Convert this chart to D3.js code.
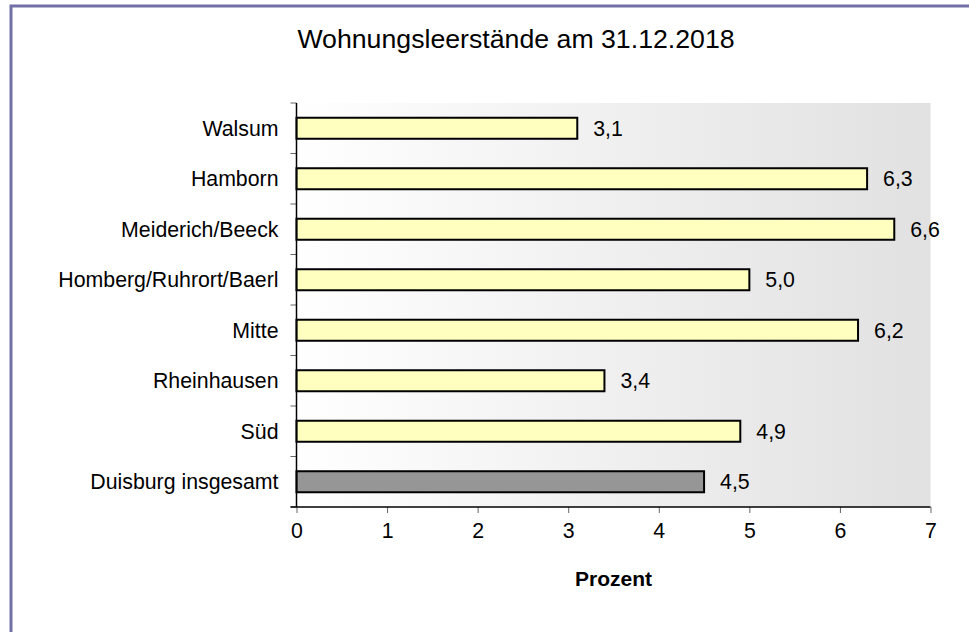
<!DOCTYPE html>
<html>
    <script src="https://d3js.org/d3.v7.min.js"></script>
    <head>
        <meta charset="utf-8">
        <style>
            body { margin: 0; background: #fff; }
            text { font-family: "Liberation Sans", Arial, sans-serif; fill: #000; }
        </style>
    </head>
    <body>
        <svg id="chart"></svg>

        <script>
            const districts = ["Walsum", "Hamborn", "Meiderich/Beeck", "Homberg/Ruhrort/Baerl", "Mitte", "Rheinhausen", "Süd", "Duisburg insgesamt"];
            const vacancy = [3.1, 6.3, 6.6, 5.0, 6.2, 3.4, 4.9, 4.5];
            const xTicks = [0, 1, 2, 3, 4, 5, 6, 7];
            const totalName = "Duisburg insgesamt";

            const width = 969, height = 632;
            const plot = { left: 296.5, right: 930.5, top: 103, bottom: 507 };

            const svg = d3.select("#chart")
                .attr("width", width)
                .attr("height", height)
                .attr("viewBox", [0, 0, width, height]);

            const data = districts.map((d, i) => ({ name: d, value: vacancy[i] }));

            const x = d3.scaleLinear().domain([0, 7]).range([plot.left, plot.right]);
            const y = d3.scaleBand().domain(districts).range([plot.top, plot.bottom])
                .paddingInner(0.584).paddingOuter(0.292);

            // frame (only top and left edges visible in the crop)
            svg.append("path")
                .attr("d", `M11,${height} L11,6 L${width},6`)
                .attr("fill", "none")
                .attr("stroke", "#7171a6")
                .attr("stroke-width", 3);

            // plot background gradient
            const grad = svg.append("defs").append("linearGradient")
                .attr("id", "bg").attr("x1", "0%").attr("x2", "100%");
            grad.append("stop").attr("offset", "0%").attr("stop-color", "#ffffff");
            grad.append("stop").attr("offset", "55%").attr("stop-color", "#eeeeee");
            grad.append("stop").attr("offset", "100%").attr("stop-color", "#e1e1e1");

            svg.append("rect")
                .attr("x", plot.left).attr("y", plot.top)
                .attr("width", plot.right - plot.left)
                .attr("height", plot.bottom - plot.top)
                .attr("fill", "url(#bg)");

            // title
            svg.append("text")
                .attr("x", 516).attr("y", 48)
                .attr("text-anchor", "middle")
                .attr("font-size", 26.7)
                .text("Wohnungsleerstände am 31.12.2018");

            // bars
            svg.selectAll("rect.bar")
                .data(data)
                .join("rect")
                .attr("class", "bar")
                .attr("x", x(0))
                .attr("y", d => y(d.name))
                .attr("width", d => x(d.value) - x(0))
                .attr("height", y.bandwidth())
                .attr("fill", d => d.name === totalName ? "#969696" : "#ffffc0")
                .attr("stroke", "#000")
                .attr("stroke-width", 2);

            // value labels
            svg.selectAll("text.val")
                .data(data)
                .join("text")
                .attr("class", "val")
                .attr("x", d => x(d.value) + 16)
                .attr("y", d => y(d.name) + y.bandwidth() / 2)
                .attr("dy", "0.36em")
                .attr("font-size", 21.3)
                .text(d => d.value.toFixed(1).replace(".", ","));

            // y axis: labels plus tick marks at band boundaries
            const yAxis = svg.append("g");
            const step = y.step();
            const bounds = districts.map(d => y(d) - step * y.paddingInner() / 2).concat([plot.bottom]);
            yAxis.selectAll("line.tick")
                .data(bounds)
                .join("line")
                .attr("class", "tick")
                .attr("x1", plot.left - 6).attr("x2", plot.left)
                .attr("y1", d => d).attr("y2", d => d)
                .attr("stroke", "#666").attr("stroke-width", 1);
            yAxis.selectAll("text")
                .data(districts)
                .join("text")
                .attr("x", plot.left - 18)
                .attr("y", d => y(d) + y.bandwidth() / 2)
                .attr("dy", "0.36em")
                .attr("text-anchor", "end")
                .attr("font-size", 21.3)
                .text(d => d);
            yAxis.append("line")
                .attr("x1", plot.left).attr("x2", plot.left)
                .attr("y1", plot.top).attr("y2", plot.bottom)
                .attr("stroke", "#000").attr("stroke-width", 1.5);

            // x axis
            const xAxis = svg.append("g")
                .attr("transform", `translate(0,${plot.bottom})`)
                .call(d3.axisBottom(x).tickValues(xTicks).tickSize(6).tickPadding(10).tickFormat(d3.format("d")));
            xAxis.select(".domain").remove();
            xAxis.selectAll(".tick line").attr("stroke", "#666");
            xAxis.selectAll(".tick text")
                .attr("font-size", 21.3)
                .attr("font-family", "Liberation Sans, Arial, sans-serif")
                .attr("fill", "#000");
            xAxis.append("line")
                .attr("x1", plot.left - 6).attr("x2", plot.right)
                .attr("stroke", "#000").attr("stroke-width", 1.5);

            svg.append("text")
                .attr("x", (plot.left + plot.right) / 2).attr("y", 586)
                .attr("text-anchor", "middle")
                .attr("font-size", 21)
                .attr("font-weight", "bold")
                .text("Prozent");
        </script>
    </body>
</html>
